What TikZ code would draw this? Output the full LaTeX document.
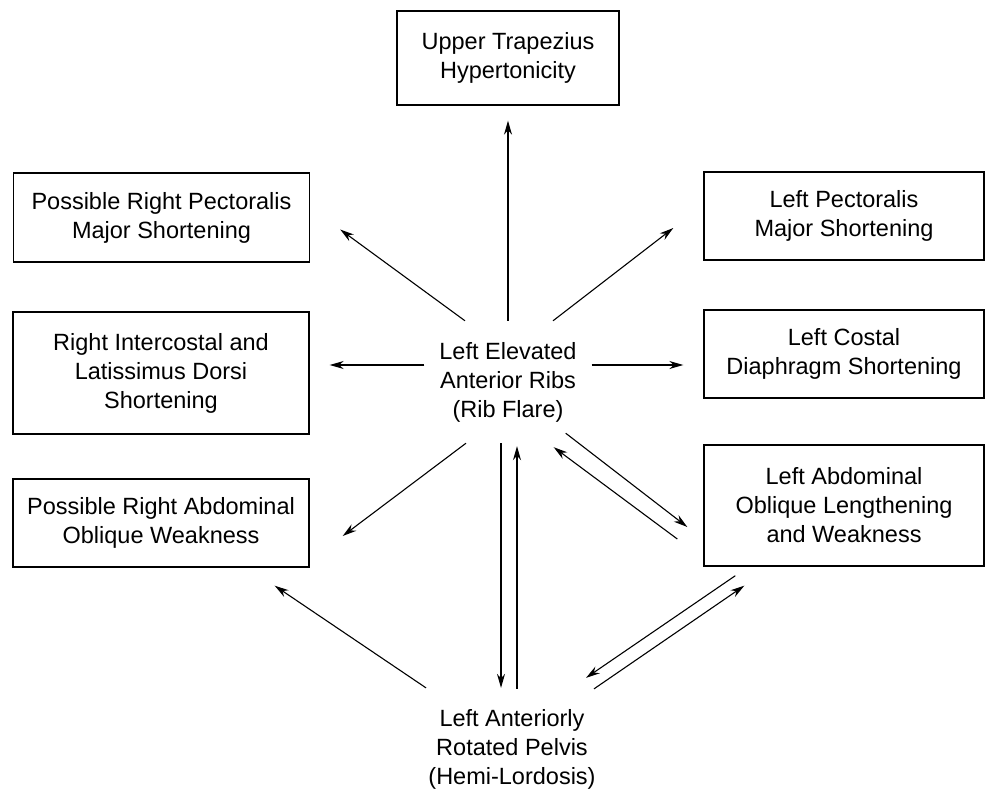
\documentclass[tikz,border=0pt]{standalone}
\usepackage{fontspec}
\setmainfont{Liberation Sans}
\usetikzlibrary{arrows.meta}
\tikzset{
  musclebox/.style={draw,line width=1.4pt,align=center,inner sep=0pt,font=\fontsize{23.5}{29}\selectfont},
  leftbox/.style={musclebox,minimum width=296pt},
  rightbox/.style={musclebox,minimum width=280pt},
  hubtext/.style={align=center,inner sep=0pt,font=\fontsize{23.5}{29}\selectfont},
  linkarr/.style={-{Stealth[length=14pt,width=8pt]},line width=1.1pt}
}

\begin{document}
\begin{tikzpicture}[x=1pt,y=-1pt]
  \useasboundingbox (0,0) rectangle (987,792);

  % --- Centre : ribs and pelvis ---
  \node[hubtext,minimum width=167pt,minimum height=122pt] (ribs) at (508,382) {Left Elevated\\Anterior Ribs\\(Rib Flare)};
  \node[hubtext] (pelvis) at (512,749) {Left Anteriorly\\Rotated Pelvis\\(Hemi-Lordosis)};

  % --- Top box ---
  \node[musclebox,minimum width=222pt,minimum height=94pt] (trap) at (508,58) {Upper Trapezius\\Hypertonicity};

  % --- Left column ---
  \node[leftbox,minimum height=89pt] (rpect) at (161.5,217.5) {Possible Right Pectoralis\\Major Shortening};
  \node[leftbox,minimum height=122pt] (rinter) at (161,373) {Right Intercostal and\\Latissimus Dorsi\\Shortening};
  \node[leftbox,minimum height=88pt] (rabd) at (161,523) {Possible Right Abdominal\\Oblique Weakness};

  % --- Right column ---
  \node[rightbox,minimum height=88pt] (lpect) at (844,216) {Left Pectoralis\\Major Shortening};
  \node[rightbox,minimum height=88pt] (lcost) at (844,354) {Left Costal\\Diaphragm Shortening};
  \node[rightbox,minimum height=121pt] (labd) at (844,505.5) {Left Abdominal\\Oblique Lengthening\\and Weakness};

  % --- Arrows out of the ribs ---
  \draw[linkarr] (ribs.north) -- ([yshift=-15pt]trap.south);
  \draw[linkarr] ([xshift=-43pt]ribs.north) -- ([xshift=30pt,yshift=-12pt]rpect.east);
  \draw[linkarr] ([xshift=45pt]ribs.north) -- ([xshift=-30pt,yshift=-12pt]lpect.west);
  \draw[linkarr] ([yshift=17pt]ribs.west) -- ([xshift=20pt,yshift=8pt]rinter.east);
  \draw[linkarr] ([yshift=17pt]ribs.east) -- ([xshift=-20pt,yshift=-11pt]lcost.west);
  \draw[linkarr] ([xshift=-42pt]ribs.south) -- ([xshift=33pt,yshift=-13pt]rabd.east);

  % --- Ribs <-> pelvis ---
  \draw[linkarr] ([xshift=-7pt]ribs.south) -- ([xshift=-11pt,yshift=21pt]pelvis.north);
  \draw[linkarr] ([xshift=5pt,yshift=20pt]pelvis.north) -- ([xshift=9pt,yshift=-3pt]ribs.south);

  % --- Ribs <-> left abdominal ---
  \draw[linkarr] ([xshift=-26pt,yshift=10pt]ribs.south east) -- ([xshift=-16pt,yshift=-21.5pt]labd.west);
  \draw[linkarr] ([xshift=-26pt,yshift=-33.5pt]labd.west) -- ([xshift=-38pt,yshift=-4pt]ribs.south east);

  % --- Arrows round the pelvis ---
  \draw[linkarr] ([xshift=-86pt,yshift=21pt]pelvis.north) -- ([xshift=-35pt,yshift=-18pt]rabd.south east);
  \draw[linkarr] ([xshift=32pt,yshift=-9pt]labd.south west) -- ([xshift=74pt,yshift=31pt]pelvis.north);
  \draw[linkarr] ([xshift=82pt,yshift=20pt]pelvis.north) -- ([xshift=41pt,yshift=-19pt]labd.south west);

\end{tikzpicture}
\end{document}
